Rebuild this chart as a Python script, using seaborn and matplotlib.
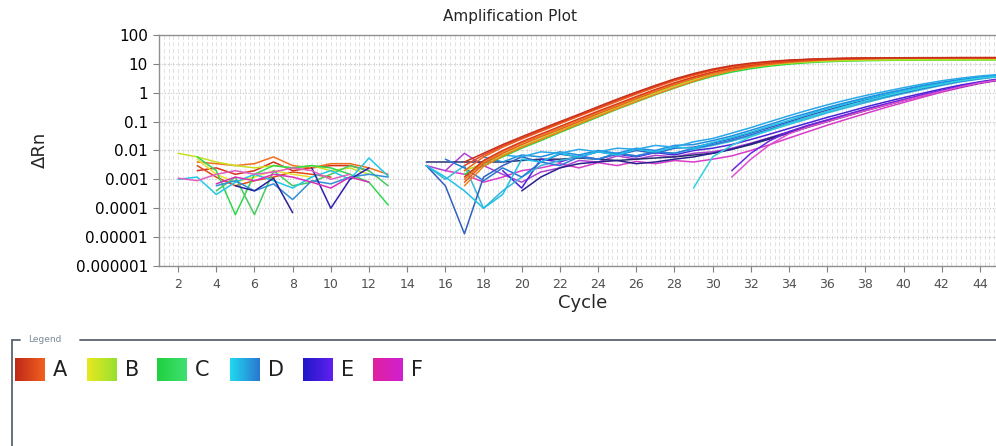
import numpy as np
import pandas as pd
import matplotlib
matplotlib.use('Agg')
import matplotlib.pyplot as plt
from matplotlib.ticker import FixedLocator, MultipleLocator, LogLocator, NullFormatter
import seaborn as sns

# ---- axis text ----
title = 'Amplification Plot'
x_label = 'Cycle'
y_label = 'ΔRn'
x_ticks = [2, 4, 6, 8, 10, 12, 14, 16, 18, 20, 22, 24, 26, 28, 30, 32, 34, 36, 38, 40, 42, 44]
y_ticks = [1e-6, 1e-5, 1e-4, 1e-3, 1e-2, 1e-1, 1, 10, 100]
y_tick_labels = ['0.000001', '0.00001', '0.0001', '0.001', '0.01', '0.1', '1', '10', '100']
groups = ['A', 'B', 'C', 'D', 'E', 'F']

# ---- baseline noise, cycles 2-13 ----
na1_start = 3
na1 = [0.002, 0.0025, 0.0015, 0.002, 0.004, 0.002, 0.0025, 0.003, 0.003, 0.002]
na2_start = 3
na2 = [0.004, 0.0035, 0.003, 0.0035, 0.006, 0.003, 0.0025, 0.0035, 0.0035, 0.0025, 0.0015]
na3_start = 3
na3 = [0.003, 0.0012, 0.0006, 0.0009, 0.0012, 0.0018, 0.0015, 0.0012]
nb1_start = 2
nb1 = [0.008, 0.006, 0.004, 0.003, 0.0025, 0.003, 0.0025, 0.003, 0.002, 0.0025, 0.0015]
nb2_start = 3
nb2 = [0.005, 0.0015, 0.0008, 0.0012, 0.002, 0.0015, 0.0012]
nc1_start = 3
nc1 = [0.006, 0.002, 0.00006, 0.0015, 0.003, 0.0025, 0.003, 0.0025, 0.0015, 0.0008, 0.00013]
nc2_start = 4
nc2 = [0.0004, 0.0012, 0.00006, 0.002, 0.0006, 0.0008, 0.0015, 0.003, 0.002, 0.0006]
nd1_start = 2
nd1 = [0.001, 0.0012, 0.0003, 0.0008, 0.0015, 0.0009, 0.0005, 0.0012, 0.002, 0.001, 0.0055, 0.0013]
nd2_start = 4
nd2 = [0.0006, 0.0009, 0.0004, 0.0007, 0.0002, 0.0009, 0.0007, 0.0012, 0.0015, 0.0012]
ne1_start = 5
ne1 = [0.0006, 0.0004, 0.0011, 0.00007]
ne2_start = 9
ne2 = [0.0025, 0.0001, 0.001, 0.0025]
nf1_start = 4
nf1 = [0.0007, 0.0012, 0.0009, 0.0015, 0.0012, 0.0008, 0.0005, 0.0012, 0.0008]
nf2_start = 2
nf2 = [0.0011, 0.0009, 0.0015, 0.002, 0.0015, 0.0018, 0.0025, 0.002, 0.001, 0.0015]

# ---- early amplifying wells (A, B, C), cycles 17-45 ----
a_start = 17
a1 = [0.004, 0.008, 0.016, 0.03, 0.055, 0.1, 0.18, 0.33, 0.6, 1.05, 1.8, 3.0, 4.6, 6.6, 8.7,
      10.6, 12.2, 13.5, 14.5, 15.2, 15.7, 16.0, 16.2, 16.3, 16.4, 16.4, 16.5, 16.5, 16.5]
a6 = [0.003, 0.007, 0.0145, 0.027, 0.05, 0.092, 0.167, 0.3, 0.55, 0.97, 1.67, 2.8, 4.3, 6.2, 8.3,
      10.2, 11.8, 13.2, 14.2, 15.0, 15.5, 15.8, 16.0, 16.2, 16.3, 16.3, 16.4, 16.4, 16.4]
a2 = [0.002, 0.006, 0.013, 0.025, 0.046, 0.085, 0.155, 0.28, 0.5, 0.9, 1.55, 2.6, 4.0, 5.9, 7.9,
      9.8, 11.5, 12.9, 14.0, 14.8, 15.3, 15.7, 15.9, 16.0, 16.1, 16.2, 16.2, 16.3, 16.3]
a3 = [0.0012, 0.0045, 0.01, 0.02, 0.037, 0.068, 0.125, 0.23, 0.41, 0.74, 1.3, 2.2, 3.5, 5.2, 7.1,
      9.0, 10.8, 12.3, 13.5, 14.4, 15.0, 15.4, 15.7, 15.9, 16.0, 16.1, 16.1, 16.2, 16.2]
a7 = [0.001, 0.004, 0.009, 0.018, 0.033, 0.061, 0.112, 0.21, 0.37, 0.68, 1.2, 2.05, 3.3, 4.9, 6.8,
      8.7, 10.5, 12.0, 13.3, 14.2, 14.9, 15.3, 15.6, 15.8, 15.9, 16.0, 16.1, 16.1, 16.1]
a4 = [0.0008, 0.0035, 0.008, 0.016, 0.03, 0.055, 0.1, 0.19, 0.34, 0.62, 1.1, 1.9, 3.1, 4.7, 6.5,
      8.4, 10.2, 11.8, 13.1, 14.1, 14.8, 15.3, 15.6, 15.8, 15.9, 16.0, 16.0, 16.1, 16.1]
a5 = [0.0006, 0.0028, 0.0065, 0.013, 0.024, 0.045, 0.083, 0.155, 0.28, 0.5, 0.88, 1.5, 2.5, 4.0, 5.8,
      7.7, 9.5, 11.2, 12.6, 13.7, 14.5, 15.1, 15.5, 15.7, 15.8, 15.9, 16.0, 16.0, 16.0]
b1 = [0.002, 0.0035, 0.007, 0.014, 0.026, 0.05, 0.09, 0.17, 0.31, 0.56, 1.0, 1.7, 2.8, 4.2, 5.9,
      7.6, 9.2, 10.6, 11.7, 12.5, 13.0, 13.4, 13.6, 13.8, 13.9, 14.0, 14.0, 14.0, 14.1]
c1 = [0.0015, 0.003, 0.006, 0.012, 0.022, 0.042, 0.078, 0.145, 0.27, 0.48, 0.85, 1.45, 2.4, 3.7, 5.2,
      6.8, 8.4, 9.8, 11.0, 11.9, 12.5, 12.9, 13.2, 13.4, 13.5, 13.6, 13.6, 13.7, 13.7]

# ---- late amplifying wells (D, E, F) ----
d1_start = 18
d1 = [0.004, 0.007, 0.006, 0.009, 0.008, 0.011, 0.009, 0.012, 0.011, 0.015, 0.013, 0.02, 0.026, 0.04,
      0.062, 0.1, 0.16, 0.25, 0.38, 0.56, 0.8, 1.1, 1.5, 2.0, 2.6, 3.2, 3.8, 4.3]
d2_start = 18
d2 = [0.006, 0.004, 0.007, 0.006, 0.009, 0.007, 0.01, 0.008, 0.012, 0.01, 0.015, 0.016, 0.022, 0.032,
      0.05, 0.08, 0.13, 0.2, 0.31, 0.46, 0.67, 0.95, 1.3, 1.8, 2.3, 2.9, 3.5, 4.0]
d3_start = 15
d3 = [0.003, 0.0012, 0.0004, 0.0001, 0.0003, 0.005, 0.004, 0.008, 0.006, 0.009, 0.007, 0.011, 0.009,
      0.013, 0.012, 0.019, 0.028, 0.043, 0.07, 0.11, 0.18, 0.28, 0.42, 0.62, 0.88, 1.22, 1.7, 2.2,
      2.8, 3.4, 3.9]
d4_start = 16
d4 = [0.005, 0.0025, 0.0009, 0.0025, 0.0012, 0.004, 0.003, 0.006, 0.005, 0.008, 0.0065, 0.009, 0.008,
      0.012, 0.016, 0.023, 0.035, 0.055, 0.09, 0.14, 0.22, 0.34, 0.5, 0.72, 1.0, 1.4, 1.9, 2.5, 3.1, 3.7]
d5_start = 15
d5 = [0.003, 0.0006, 0.000013, 0.0012, 0.003, 0.006, 0.004, 0.0075, 0.006, 0.009, 0.007, 0.01, 0.008,
      0.012, 0.013, 0.018, 0.026, 0.04, 0.063, 0.1, 0.16, 0.25, 0.38, 0.56, 0.8, 1.1, 1.55, 2.1, 2.7,
      3.3, 3.8]
d6_start = 29
d6 = [0.0005, 0.006, 0.015, 0.03, 0.05, 0.085, 0.14, 0.22, 0.34, 0.52, 0.76, 1.08, 1.5, 2.0, 2.6, 3.2, 3.7]
d7_start = 15
d7 = [0.003, 0.001, 0.003, 0.0001, 0.0004, 0.0012, 0.003, 0.0045, 0.006, 0.005, 0.008, 0.0065, 0.009,
      0.008, 0.011, 0.015, 0.021, 0.032, 0.05, 0.08, 0.125, 0.2, 0.3, 0.45, 0.66, 0.94, 1.3, 1.8,
      2.4, 3.0, 3.6]
e1_start = 19
e1 = [0.002, 0.0005, 0.005, 0.004, 0.0065, 0.005, 0.0075, 0.006, 0.0085, 0.007, 0.01, 0.012, 0.016,
      0.024, 0.037, 0.058, 0.09, 0.14, 0.21, 0.32, 0.47, 0.68, 0.96, 1.35, 1.85, 2.4, 3.0]
e2_start = 20
e2 = [0.0004, 0.0012, 0.0025, 0.0035, 0.004, 0.0045, 0.0035, 0.004, 0.005, 0.006, 0.008, 0.011, 0.017,
      0.027, 0.043, 0.068, 0.105, 0.16, 0.25, 0.37, 0.55, 0.8, 1.15, 1.6, 2.2, 2.8]
e3_start = 15
e3 = [0.004, 0.004, 0.004, 0.004, 0.004, 0.0045, 0.005, 0.005, 0.0055, 0.005, 0.0045, 0.005, 0.0055,
      0.006, 0.007, 0.008, 0.011, 0.016, 0.025, 0.04, 0.064, 0.1, 0.155, 0.24, 0.36, 0.54, 0.8,
      1.15, 1.6, 2.2, 2.8]
e4_start = 31
e4 = [0.002, 0.008, 0.022, 0.045, 0.075, 0.115, 0.175, 0.27, 0.4, 0.58, 0.85, 1.2, 1.7, 2.3, 2.9]
f1_start = 31
f1 = [0.0012, 0.005, 0.016, 0.038, 0.065, 0.1, 0.155, 0.24, 0.36, 0.53, 0.78, 1.12, 1.6, 2.2, 2.8]
f2_start = 16
f2 = [0.002, 0.0015, 0.0008, 0.0012, 0.002, 0.0025, 0.0035, 0.0025, 0.0038, 0.003, 0.0042, 0.0035,
      0.0045, 0.004, 0.005, 0.0065, 0.01, 0.016, 0.027, 0.045, 0.075, 0.12, 0.19, 0.3, 0.46, 0.7,
      1.05, 1.5, 2.1, 2.7]
f3_start = 15
f3 = [0.003, 0.002, 0.008, 0.003, 0.0015, 0.0008, 0.0018, 0.0025, 0.0045, 0.004, 0.0065, 0.005, 0.0068,
      0.006, 0.008, 0.009, 0.012, 0.018, 0.028, 0.045, 0.072, 0.11, 0.17, 0.26, 0.39, 0.58, 0.85,
      1.2, 1.7, 2.3, 2.9]

# drawing order: first drawn ends up at the back
curves = [
    ('na1', na1_start, na1, '#d8301c'), ('na2', na2_start, na2, '#f07020'),
    ('na3', na3_start, na3, '#e04a18'), ('nb1', nb1_start, nb1, '#c8e020'),
    ('nb2', nb2_start, nb2, '#e8e030'), ('nc1', nc1_start, nc1, '#30d850'),
    ('nc2', nc2_start, nc2, '#48c860'), ('nd1', nd1_start, nd1, '#20c8e8'),
    ('nd2', nd2_start, nd2, '#3090d8'), ('ne1', ne1_start, ne1, '#2a2098'),
    ('ne2', ne2_start, ne2, '#3020b0'), ('nf1', nf1_start, nf1, '#d830b8'),
    ('nf2', nf2_start, nf2, '#e060c0'),
    ('f2', f2_start, f2, '#d83cc8'), ('f3', f3_start, f3, '#b040d0'),
    ('e3', e3_start, e3, '#283070'), ('e2', e2_start, e2, '#2a2090'),
    ('e1', e1_start, e1, '#4a22d8'), ('e4', e4_start, e4, '#6a28e0'),
    ('f1', f1_start, f1, '#e050d0'),
    ('d7', d7_start, d7, '#38b8d8'), ('d5', d5_start, d5, '#3060c0'),
    ('d4', d4_start, d4, '#2a78d8'), ('d3', d3_start, d3, '#20c0e8'),
    ('d2', d2_start, d2, '#1e90e0'), ('d1', d1_start, d1, '#2aa8e8'),
    ('d6', d6_start, d6, '#30d0e0'),
    ('c1', a_start, c1, '#28d840'), ('b1', a_start, b1, '#b8e020'),
    ('a5', a_start, a5, '#f08020'), ('a4', a_start, a4, '#e85a1a'),
    ('a7', a_start, a7, '#f07a22'), ('a3', a_start, a3, '#d83a1a'),
    ('a2', a_start, a2, '#f0601c'), ('a6', a_start, a6, '#e4461c'),
    ('a1', a_start, a1, '#c8301c'),
]

rows = []
for name, start, vals, col in curves:
    for i, v in enumerate(vals):
        rows.append({'cycle': start + i, 'dRn': v, 'well': name})
df = pd.DataFrame(rows)
palette = {name: col for name, start, vals, col in curves}

sns.set_style('white')
plt.rcParams['font.family'] = ['DejaVu Sans']

fig = plt.figure(figsize=(9.96, 4.46), dpi=100)
ax = fig.add_axes([159 / 996, 180 / 446, 840 / 996, 231 / 446])
ax.set_yscale('log')

sns.lineplot(data=df, x='cycle', y='dRn', hue='well', palette=palette,
             estimator=None, legend=False, linewidth=1.1, sort=False, ax=ax)

ax.set_xlim(1, 45)
ax.set_ylim(1e-6, 100)
ax.xaxis.set_major_locator(FixedLocator(x_ticks))
ax.xaxis.set_minor_locator(MultipleLocator(0.25))
ax.set_xticklabels([str(t) for t in x_ticks])
ax.yaxis.set_major_locator(FixedLocator(y_ticks))
ax.set_yticklabels(y_tick_labels)
ax.yaxis.set_minor_locator(LogLocator(base=10, subs=np.arange(2, 10)))
ax.yaxis.set_minor_formatter(NullFormatter())

ax.tick_params(axis='y', which='major', labelsize=11, length=4, color='#808080', labelcolor='black', pad=4)
ax.tick_params(axis='x', which='major', labelsize=9, length=4, color='#808080', labelcolor='#505050', pad=5)
ax.tick_params(which='minor', length=0)
ax.tick_params(left=True, bottom=True)

ax.grid(axis='y', which='major', color='#c8c8c8', linestyle=(0, (1, 1.5)), linewidth=0.8)
ax.grid(axis='y', which='minor', color='#e2e2e2', linestyle=(0, (1, 1.5)), linewidth=0.6)
ax.grid(axis='x', which='both', color='#dcdcdc', linestyle=(0, (5, 3)), linewidth=0.6)
ax.set_axisbelow(True)

for side in ['left', 'bottom', 'top']:
    ax.spines[side].set_color('#909090')
    ax.spines[side].set_linewidth(1.0)
ax.spines['right'].set_visible(False)

ax.set_xlabel('')
ax.set_ylabel('')
fig.text(510 / 996, 1 - 16 / 446, title, ha='center', va='center', fontsize=11)
fig.text(583 / 996, 1 - 303 / 446, x_label, ha='center', va='center', fontsize=13)
fig.text(40 / 996, 1 - 150 / 446, y_label, ha='center', va='center', fontsize=13, rotation=90)

# ---- legend panel below the plot ----
lax = fig.add_axes([0, 0, 1, 1])
lax.axis('off')
frame_col = '#5a6470'
lax.plot([12, 12], [340, 446], color=frame_col, lw=1.3)
lax.plot([12, 20], [340, 340], color=frame_col, lw=1.3)
lax.plot([80, 996], [340, 340], color=frame_col, lw=1.3)
lax.text(28, 340, 'Legend', fontsize=6.5, color='#7a8898', va='center', ha='left')

swatches = {
    'A': ('#c02818', '#f06020'),
    'B': ('#e8e820', '#98e030'),
    'C': ('#20d040', '#40e070'),
    'D': ('#20d8f0', '#2a78d0'),
    'E': ('#2018c8', '#6020f0'),
    'F': ('#e020a0', '#d020d0'),
}
box_x = [15, 87, 157, 230, 303, 373]
for g, bx in zip(groups, box_x):
    c0 = np.array(matplotlib.colors.to_rgb(swatches[g][0]))
    c1_ = np.array(matplotlib.colors.to_rgb(swatches[g][1]))
    t = np.linspace(0, 1, 32)[None, :, None]
    img = c0[None, None, :] * (1 - t) + c1_[None, None, :] * t
    lax.imshow(img, extent=(bx, bx + 30, 381, 358), aspect='auto', origin='upper', interpolation='bilinear')
    lax.text(bx + 38, 370, g, fontsize=15, va='center', ha='left', color='#202020')

lax.set_xlim(0, 996)
lax.set_ylim(446, 0)

fig.savefig('out.png', dpi=100)
